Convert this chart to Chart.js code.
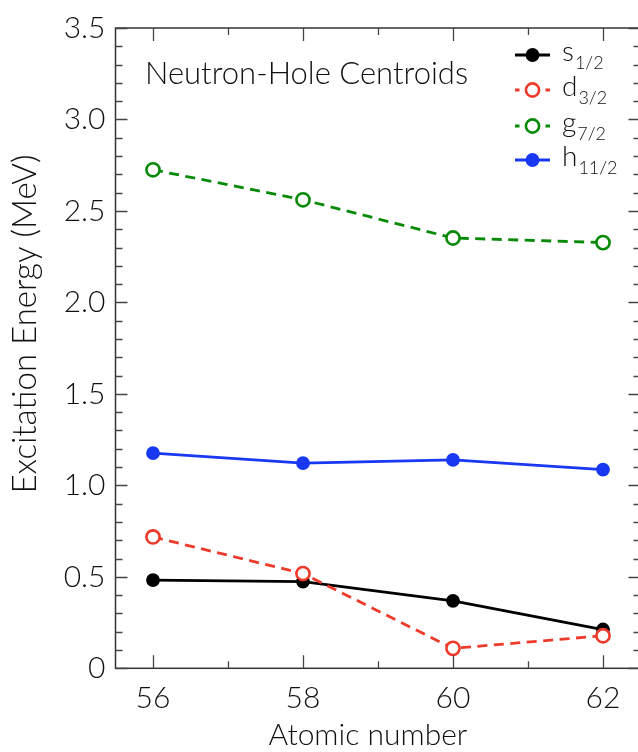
<!DOCTYPE html>
<html>
<head>
<meta charset="utf-8">
<script src="https://cdn.jsdelivr.net/npm/chart.js@4.4.1/dist/chart.umd.min.js"></script>
<style>
  html, body { margin:0; padding:0; background:#fff; overflow:hidden; }
  #wrap { width:650px; height:752px; }
</style>
</head>
<body>
<div id="wrap"><canvas id="c" width="650" height="752"></canvas></div>
<script>
// ---- data ----
const atomicNumbers = [56, 58, 60, 62];
const s12 = [0.482, 0.474, 0.369, 0.212];
const d32 = [0.718, 0.518, 0.109, 0.178];
const g72 = [2.725, 2.561, 2.352, 2.327];
const h112 = [1.176, 1.121, 1.139, 1.086];
const xTicks = [56, 58, 60, 62];
const xMinorTicks = [57, 59, 61];
const yTicks = [0, 0.5, 1.0, 1.5, 2.0, 2.5, 3.0, 3.5];
const yTickLabels = ['0', '0.5', '1.0', '1.5', '2.0', '2.5', '3.0', '3.5'];
const seriesNames = [['s', '1/2'], ['d', '3/2'], ['g', '7/2'], ['h', '11/2']];
const chartTitle = 'Neutron-Hole Centroids';
const xTitle = 'Atomic number';
const yTitle = 'Excitation Energy (MeV)';

const FONT = 'Lato';
const TXT = '#111';
const cBlack = '#000000';
const cRed = '#ee3a2a';
const cGreen = '#078a07';
const cBlue = '#1838f2';

function pts(arr) { return atomicNumbers.map((x, i) => ({ x: x, y: arr[i] })); }

const styles = [
  { color: cBlack, dashed: false, open: false },
  { color: cRed, dashed: true, open: true },
  { color: cGreen, dashed: true, open: true },
  { color: cBlue, dashed: false, open: false }
];

function ds(label, arr, st, order) {
  return {
    label: label,
    data: pts(arr),
    borderColor: st.color,
    backgroundColor: st.open ? '#ffffff' : st.color,
    borderWidth: 2.8,
    borderDash: st.dashed ? [10, 6.5] : [],
    pointRadius: st.open ? 6.6 : 5.6,
    pointBorderWidth: 2.6,
    pointBorderColor: st.color,
    pointBackgroundColor: st.open ? '#ffffff' : st.color,
    pointHoverRadius: 6,
    tension: 0,
    order: order
  };
}

const framePlugin = {
  id: 'frame',
  afterDatasetsDraw(chart) {
    const ctx = chart.ctx;
    const a = chart.chartArea;
    const xs = chart.scales.x, ys = chart.scales.y;
    ctx.save();
    ctx.strokeStyle = '#333';
    ctx.lineWidth = 1.5;
    ctx.setLineDash([]);
    ctx.strokeRect(a.left, a.top, a.right - a.left, a.bottom - a.top);
    ctx.lineWidth = 1.3;
    ctx.strokeStyle = '#444';
    // x ticks (bottom & top)
    const xt = (v, len) => {
      const px = Math.round(xs.getPixelForValue(v)) + 0.5;
      ctx.beginPath();
      ctx.moveTo(px, a.bottom); ctx.lineTo(px, a.bottom - len);
      ctx.moveTo(px, a.top); ctx.lineTo(px, a.top + len);
      ctx.stroke();
    };
    xTicks.forEach(v => xt(v, 13));
    xMinorTicks.forEach(v => xt(v, 7));
    // y ticks (left & right)
    const yt = (v, len) => {
      const py = Math.round(ys.getPixelForValue(v)) + 0.5;
      ctx.beginPath();
      ctx.moveTo(a.left, py); ctx.lineTo(a.left + len, py);
      ctx.moveTo(a.right, py); ctx.lineTo(a.right - len, py);
      ctx.stroke();
    };
    for (let k = 1; k < 35; k++) {
      if (k % 5 !== 0) yt(k / 10, 7);
    }
    yTicks.forEach(v => yt(v, 12));

    // title inside plot
    ctx.fillStyle = TXT;
    ctx.font = '300 31px ' + FONT;
    ctx.textAlign = 'left';
    ctx.textBaseline = 'alphabetic';
    ctx.fillText(chartTitle, 145, 84);

    // x-axis title
    ctx.textAlign = 'center';
    ctx.font = '300 30px ' + FONT;
    ctx.fillText(xTitle, 368, 745);

    // y-axis title
    ctx.save();
    ctx.translate(36, 324);
    ctx.rotate(-Math.PI / 2);
    ctx.textAlign = 'center';
    ctx.font = '300 33px ' + FONT;
    ctx.fillText(yTitle, 0, 0);
    ctx.restore();

    // legend
    const rowY = [55, 90, 126, 160];
    const x0 = 515, x1 = 550, xm = 532.5, tx = 562;
    styles.forEach((st, i) => {
      const y = rowY[i];
      ctx.strokeStyle = st.color;
      ctx.lineWidth = 2.8;
      ctx.setLineDash([]);
      ctx.beginPath();
      if (st.dashed) {
        ctx.moveTo(x0, y); ctx.lineTo(x0 + 4.5, y);
        ctx.moveTo(x1 - 4.5, y); ctx.lineTo(x1, y);
      } else {
        ctx.moveTo(x0, y); ctx.lineTo(x1, y);
      }
      ctx.stroke();
      ctx.beginPath();
      ctx.arc(xm, y, st.open ? 6.6 : 5.6, 0, Math.PI * 2);
      ctx.fillStyle = st.open ? '#ffffff' : st.color;
      ctx.fill();
      ctx.lineWidth = 2.6;
      ctx.stroke();
      ctx.fillStyle = TXT;
      ctx.textAlign = 'left';
      ctx.font = '300 28px ' + FONT;
      const main = seriesNames[i][0];
      ctx.fillText(main, tx, y + 6);
      const w = ctx.measureText(main).width;
      ctx.font = '300 18px ' + FONT;
      ctx.fillText(seriesNames[i][1], tx + w + 1, y + 14);
    });
    ctx.restore();
  }
};

new Chart(document.getElementById('c'), {
  type: 'line',
  data: {
    datasets: [
      ds('s1/2', s12, styles[0], 4),
      ds('d3/2', d32, styles[1], 3),
      ds('g7/2', g72, styles[2], 2),
      ds('h11/2', h112, styles[3], 1)
    ]
  },
  options: {
    responsive: false,
    animation: false,
    devicePixelRatio: 1,
    layout: { padding: { top: 26.6, right: 9.5, left: 0, bottom: 0 } },
    plugins: { legend: { display: false }, tooltip: { enabled: false }, title: { display: false } },
    scales: {
      x: {
        type: 'linear',
        min: 55.5, max: 62.5,
        grid: { display: false, drawTicks: false },
        border: { display: false },
        afterBuildTicks: s => { s.ticks = xTicks.map(v => ({ value: v })); },
        afterFit: s => { s.height = 83.7; },
        ticks: {
          color: TXT, padding: 12,
          font: { family: FONT, size: 30, weight: 300 },
          callback: v => String(v), maxRotation: 0, autoSkip: false
        },
        title: { display: false }
      },
      y: {
        type: 'linear',
        min: 0, max: 3.5,
        grid: { display: false, drawTicks: false },
        border: { display: false },
        afterBuildTicks: s => { s.ticks = yTicks.map(v => ({ value: v })); },
        afterFit: s => { s.width = 115.5; },
        ticks: {
          color: TXT, padding: 10,
          font: { family: FONT, size: 30, weight: 300 },
          callback: (v) => { const i = yTicks.indexOf(v); return i >= 0 ? yTickLabels[i] : ''; },
          autoSkip: false
        }
      }
    }
  },
  plugins: [framePlugin]
});
</script>
</body>
</html>
